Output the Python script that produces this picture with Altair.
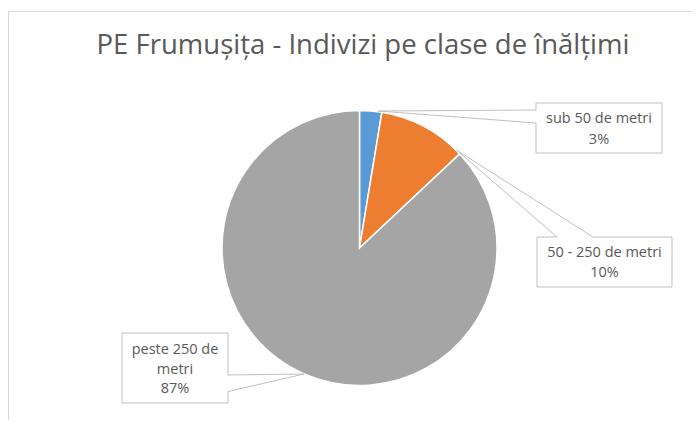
import altair as alt
import pandas as pd

# ---- data ----
categories = ["sub 50 de metri", "50 - 250 de metri", "peste 250 de metri"]
values = [2.6, 10.4, 87.0]
colors = ["#5B9BD5", "#ED7D31", "#A5A5A5"]
title_text = "PE Frumușița - Indivizi pe clase de înălțimi"
label_lines = [["sub 50 de metri"], ["50 - 250 de metri"], ["peste 250 de", "metri"]]

total = sum(values)
pct_text = [f"{round(v / total * 100)}%" for v in values]

df = pd.DataFrame({"category": categories, "value": values, "idx": list(range(len(values)))})
one = pd.DataFrame({"a": [0]})

# ---- layout (chart coords = page coords - 8) ----
W, H = 684, 412
OFF = 8
cx, cy, R = 359.5 - OFF, 248 - OFF, 137.5

TXT = "#595959"
EDGE = "#BFBFBF"
FONT = "Open Sans"

pie = alt.Chart(df).mark_arc(outerRadius=R, stroke="white", strokeWidth=1.5).encode(
    theta=alt.Theta("value:Q", stack=True),
    order=alt.Order("idx:Q"),
    color=alt.Color("category:N", scale=alt.Scale(domain=categories, range=colors), legend=None),
    x=alt.value(cx),
    y=alt.value(cy),
)

layers = []

# frame
layers.append(alt.Chart(one).mark_rule(color="#D9D9D9", strokeWidth=1).encode(
    x=alt.value(0), x2=alt.value(W), y=alt.value(3.5), y2=alt.value(3.5)))
layers.append(alt.Chart(one).mark_rule(color="#D9D9D9", strokeWidth=1).encode(
    x=alt.value(0.5), x2=alt.value(0.5), y=alt.value(3.5), y2=alt.value(H)))

# title
layers.append(alt.Chart(one).mark_text(
    text=title_text, font=FONT, fontSize=27.5, color=TXT, align="center", baseline="middle"
).encode(x=alt.value(363 - OFF), y=alt.value(46 - OFF)))

layers.append(pie)

# callouts: box (x1,x2,y1,y2) page coords, text center x, first line y, line height,
# wedge: anchor point, two edge points
boxes = [
    dict(box=(536, 662, 103, 153), tx=599, ty=119, lh=21,
         anchor=(378, 111), e1=(536, 110), e2=(536, 123)),
    dict(box=(537, 672, 237, 287), tx=604.5, ty=253, lh=20,
         anchor=(456.5, 150), e1=(557, 237), e2=(593, 237)),
    dict(box=(122, 228, 333, 403), tx=175, ty=350, lh=19.5,
         anchor=(304, 374), e1=(228, 375), e2=(228, 391.5)),
]

for i, b in enumerate(boxes):
    x1, x2, y1, y2 = [v - OFF for v in b["box"]]
    layers.append(alt.Chart(one).mark_rect(fill="white", stroke=EDGE, strokeWidth=1).encode(
        x=alt.value(x1), x2=alt.value(x2), y=alt.value(y1), y2=alt.value(y2)))
    ax, ay = b["anchor"][0] - OFF, b["anchor"][1] - OFF
    e1x, e1y = b["e1"][0] - OFF, b["e1"][1] - OFF
    e2x, e2y = b["e2"][0] - OFF, b["e2"][1] - OFF
    # open the box edge where the wedge joins
    layers.append(alt.Chart(one).mark_rule(color="white", strokeWidth=2).encode(
        x=alt.value(e1x), x2=alt.value(e2x), y=alt.value(e1y), y2=alt.value(e2y)))
    for ex, ey in [(e1x, e1y), (e2x, e2y)]:
        layers.append(alt.Chart(one).mark_rule(color=EDGE, strokeWidth=1).encode(
            x=alt.value(ax), x2=alt.value(ex), y=alt.value(ay), y2=alt.value(ey)))
    lines = label_lines[i] + [pct_text[i]]
    layers.append(alt.Chart(one).mark_text(
        text=lines, font=FONT, fontSize=14.5, color=TXT, align="center", baseline="middle",
        lineHeight=b["lh"]
    ).encode(x=alt.value(b["tx"] - OFF), y=alt.value(b["ty"] - OFF)))

chart = alt.layer(*layers).properties(
    width=W, height=H, autosize=alt.AutoSizeParams(type="none"), padding=0,
    background="white"
).configure_view(stroke=None)

chart.save("out.html", embed_options={"renderer": "svg", "actions": False})
